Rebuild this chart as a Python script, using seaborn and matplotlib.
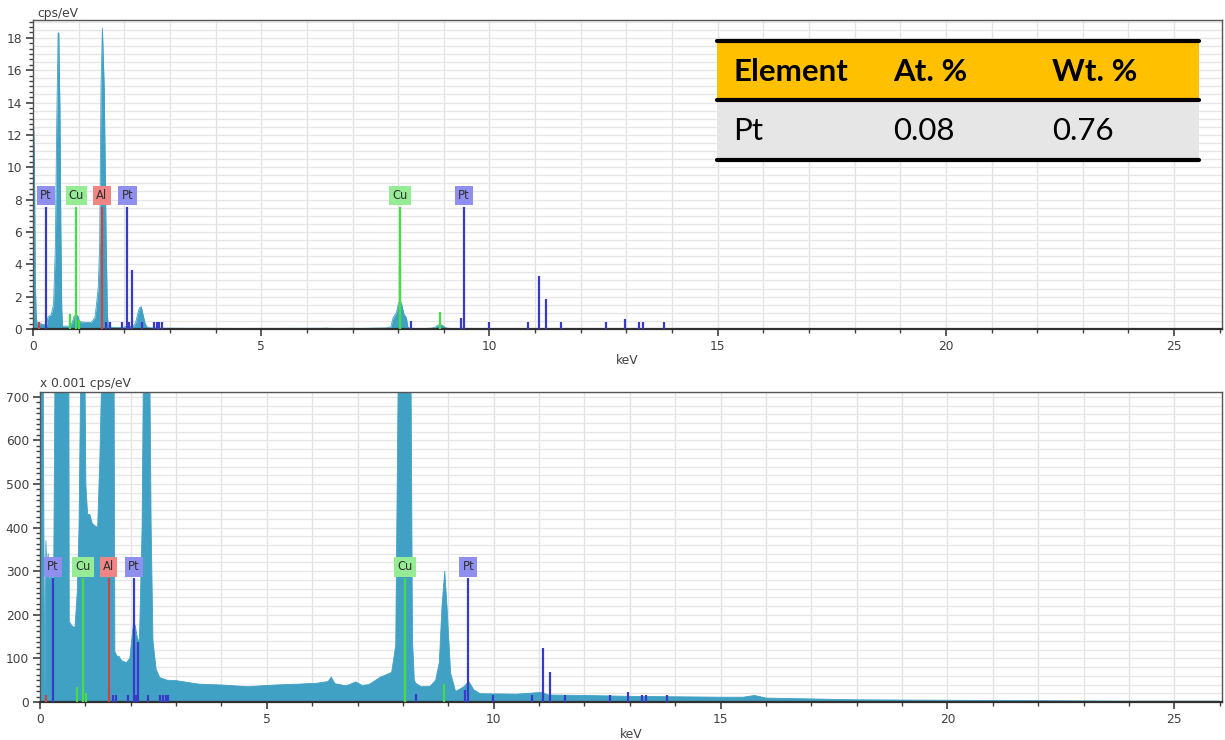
import matplotlib
matplotlib.use('Agg')
import matplotlib.pyplot as plt
from matplotlib.patches import Rectangle
from matplotlib.ticker import MultipleLocator
import numpy as np
import seaborn as sns

# EDS spectrum, counts in x 0.001 cps/eV
energy_kev = [
    0.00, 0.01, 0.03, 0.05, 0.07, 0.09, 0.11, 0.13, 0.15, 0.18, 0.21, 0.25,
    0.30, 0.33, 0.40, 0.45, 0.49, 0.52, 0.55, 0.565, 0.59, 0.61, 0.63, 0.645,
    0.70, 0.77, 0.82, 0.86, 0.90, 0.95, 0.99, 1.01, 1.05, 1.10, 1.15, 1.20,
    1.27, 1.32, 1.36, 1.39, 1.43, 1.46, 1.49, 1.52, 1.56, 1.60, 1.63, 1.65,
    1.70, 1.74, 1.80, 1.90, 1.98, 2.02, 2.06, 2.10, 2.14, 2.19, 2.25, 2.29,
    2.33, 2.37, 2.41, 2.45, 2.49, 2.56, 2.64, 2.80, 3.00, 3.50, 4.00, 4.60,
    5.00, 5.40, 5.70, 6.10, 6.35, 6.42, 6.50, 6.75, 6.96, 7.10, 7.25, 7.40,
    7.50, 7.62, 7.75, 7.84, 7.89, 7.96, 8.00, 8.04, 8.08, 8.13, 8.18, 8.21,
    8.25, 8.28, 8.40, 8.60, 8.72, 8.80, 8.86, 8.92, 8.97, 9.05, 9.16, 9.34,
    9.45, 9.56, 9.70, 10.50, 11.06, 11.20, 12.00, 13.00, 14.00, 15.00, 15.50,
    15.75, 16.00, 17.00, 18.00, 20.00, 22.00, 24.00, 26.00,
]
counts_mcps = [
    12900, 12900, 10900, 3000, 800, 300, 20, 370, 300, 340, 270, 300,
    260, 750, 900, 1500, 5100, 12700, 18300, 18300, 13500, 6100, 1200, 185,
    175, 170, 250, 400, 780, 900, 760, 500, 430, 430, 410, 405,
    400, 560, 750, 1500, 2600, 5100, 15000, 18600, 14900, 5900, 900, 115,
    105, 105, 95, 90, 100, 140, 180, 175, 150, 135, 400, 900,
    1300, 1380, 900, 400, 140, 75, 56, 50, 49, 41, 39, 35,
    38, 40, 41, 43, 47, 57, 42, 37, 46, 38, 40, 50,
    57, 62, 68, 130, 700, 1000, 1500, 1750, 1500, 900, 700, 142,
    50, 43, 35, 36, 50, 90, 220, 300, 220, 66, 24, 35,
    47, 28, 19, 18, 22, 16, 15, 13, 12, 11, 11,
    15, 9, 7, 5, 4, 3, 2, 2,
]

# element marker lines (height in cps/eV on the upper chart)
pt_kev = [0.28, 1.61, 1.68, 1.95, 2.07, 2.11, 2.16, 2.38, 2.65, 2.71, 2.77,
          2.82, 8.28, 9.37, 9.44, 9.99, 10.85, 11.08, 11.24, 11.56, 12.56,
          12.96, 13.27, 13.36, 13.82]
pt_height = [7.55, 0.41, 0.41, 0.41, 7.55, 0.41, 3.65, 0.41, 0.41, 0.41, 0.41,
             0.41, 0.50, 0.70, 7.55, 0.45, 0.45, 3.30, 1.85, 0.45, 0.45,
             0.62, 0.45, 0.45, 0.45]
cu_kev = [0.82, 0.95, 1.01, 8.04, 8.04, 8.91]
cu_height = [0.91, 7.55, 0.56, 7.55, 3.90, 1.07]
al_kev = [0.14, 1.51]
al_height = [0.41, 7.55]

label_names = ['Pt', 'Cu', 'Al', 'Pt', 'Cu', 'Pt']
label_kev = [0.28, 0.95, 1.51, 2.07, 8.04, 9.44]
label_height = 7.55

table_header = ['Element', 'At. %', 'Wt. %']
table_row = ['Pt', '0.08', '0.76']

LOWER_SCALE = 37.7  # marker heights on the lower chart relative to upper

SPEC_COLOR = '#41a1c4'
LINE_COLORS = {'Pt': '#3a3ac8', 'Cu': '#44dd44', 'Al': '#c84646'}
BOX_COLORS = {'Pt': '#8f8ff0', 'Cu': '#95ec95', 'Al': '#f08585'}
TEXT_COLOR = '#404040'
W, H = 1225, 740


def fx(px):
    return px / W


def fy(py):
    return 1 - py / H


def style_axis(ax, ymax, ymajor, yminor, ygrid):
    ax.set_xlim(0, 26.05)
    ax.set_ylim(0, ymax)
    ax.xaxis.set_major_locator(MultipleLocator(5))
    ax.xaxis.set_minor_locator(MultipleLocator(1))
    ax.yaxis.set_major_locator(MultipleLocator(ymajor))
    ax.yaxis.set_minor_locator(MultipleLocator(yminor))
    ax.grid(False)
    for xv in np.arange(1, 26, 1):
        ax.axvline(xv, color='#e3e3e3', lw=1.0, zorder=0)
    for yv in np.arange(ygrid, ymax, ygrid):
        ax.axhline(yv, color='#e6e6e6', lw=0.9, zorder=0)
    ax.tick_params(axis='both', which='major', direction='out', length=5,
                   width=1.2, color='#404040', labelsize=8.8,
                   labelcolor=TEXT_COLOR, pad=3)
    ax.tick_params(axis='both', which='minor', direction='out', length=3,
                   width=1.0, color='#404040')
    ax.tick_params(axis='x', which='both', bottom=True)
    ax.tick_params(axis='y', which='both', left=True)
    for side in ['top', 'right', 'left']:
        ax.spines[side].set_color('#555555')
        ax.spines[side].set_linewidth(1.0)
    ax.spines['bottom'].set_color('#303030')
    ax.spines['bottom'].set_linewidth(1.6)
    ax.set_xlabel('keV', fontsize=8.8, color=TEXT_COLOR, labelpad=1)
    ax.set_ylabel('')


def draw_panel(ax, scale, ymax, ymajor, yminor, ygrid):
    y = np.array(counts_mcps) / scale
    ax.fill_between(energy_kev, y, color=SPEC_COLOR, lw=0, zorder=2)
    sns.lineplot(x=energy_kev, y=y, ax=ax, color=SPEC_COLOR, lw=0.6,
                 zorder=2)
    hscale = 1.0 if scale == 1000 else LOWER_SCALE
    for name, kev, hgt in [('Pt', pt_kev, pt_height),
                           ('Cu', cu_kev, cu_height),
                           ('Al', al_kev, al_height)]:
        ax.vlines(kev, 0, np.array(hgt) * hscale, colors=LINE_COLORS[name],
                  lw=1.6, zorder=3)
    for name, kev in zip(label_names, label_kev):
        ax.annotate(name, xy=(kev, label_height * hscale),
                    xytext=(0, 8), textcoords='offset points',
                    ha='center', va='center', fontsize=8.3, color='#303030',
                    bbox=dict(boxstyle='square,pad=0.28',
                              fc=BOX_COLORS[name], ec='none'), zorder=4)
    style_axis(ax, ymax, ymajor, yminor, ygrid)


sns.set_style('white')
plt.rcParams['font.family'] = ['DejaVu Sans']

fig = plt.figure(figsize=(W / 100, H / 100), dpi=100)
ax_top = fig.add_axes([fx(33), fy(329), fx(1222) - fx(33), fy(20) - fy(329)])
ax_bot = fig.add_axes([fx(40), fy(702), fx(1222) - fx(40), fy(392) - fy(702)])

draw_panel(ax_top, 1000, 19.1, 2, 1 / 3, 0.5)
draw_panel(ax_bot, 1, 711, 100, 12.5, 20)

fig.text(fx(37), fy(13), 'cps/eV', fontsize=8.8, color=TEXT_COLOR,
         va='center', ha='left')
fig.text(fx(40), fy(384), 'x 0.001 cps/eV', fontsize=8.8, color=TEXT_COLOR,
         va='center', ha='left')

# result table in the upper right
x0, x1 = 717, 1199
fig.add_artist(Rectangle((fx(x0), fy(100)), fx(x1) - fx(x0), fy(40) - fy(100),
                         transform=fig.transFigure, fc='#ffc000', ec='none',
                         zorder=5))
fig.add_artist(Rectangle((fx(x0), fy(160)), fx(x1) - fx(x0), fy(100) - fy(160),
                         transform=fig.transFigure, fc='#e7e6e6', ec='none',
                         zorder=5))
for py in [41, 100, 160]:
    fig.add_artist(plt.Line2D([fx(x0), fx(x1)], [fy(py), fy(py)],
                              transform=fig.transFigure, color='black',
                              lw=3.0, zorder=6))
col_x = [733, 893, 1052]
for cx, head, val in zip(col_x, table_header, table_row):
    fig.text(fx(cx), fy(72), head, fontsize=22.5, fontweight='bold',
             family=['Lato', 'DejaVu Sans'], color='black', ha='left',
             va='center', zorder=7)
    fig.text(fx(cx), fy(131), val, fontsize=22.5,
             family=['Lato', 'DejaVu Sans'], color='black', ha='left',
             va='center', zorder=7)

fig.savefig('out.png', dpi=100, facecolor='white')
